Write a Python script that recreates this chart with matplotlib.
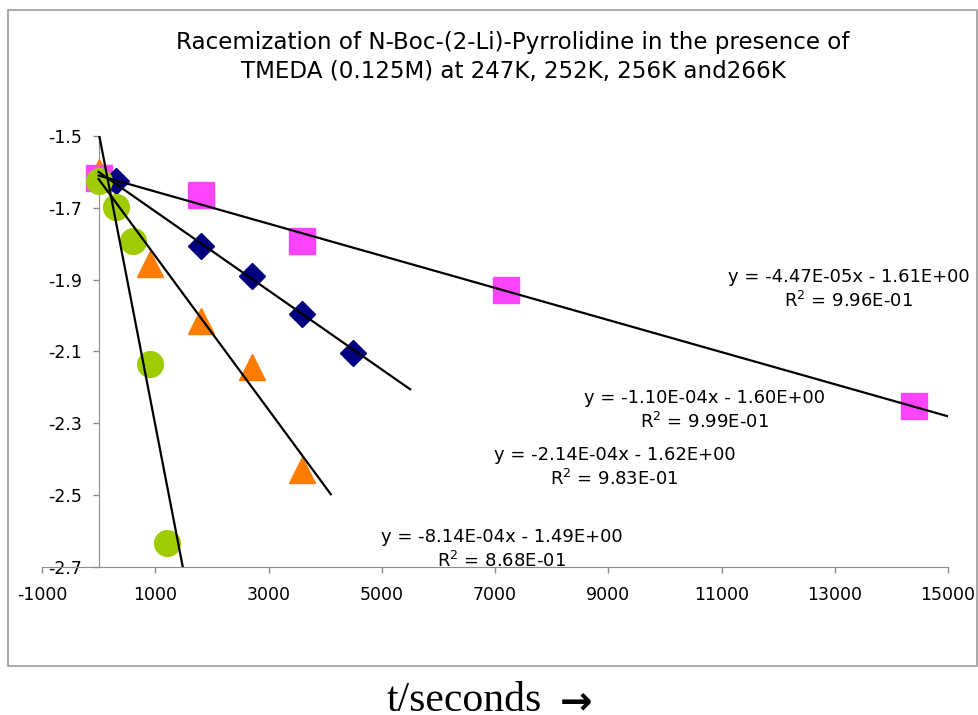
import numpy as np
import matplotlib
matplotlib.use("Agg")
import matplotlib.pyplot as plt
from matplotlib.patches import Rectangle

# ----------------------------------------------------------------------
# data (time in s, ln-type quantity on y)
T_266 = [0, 1800, 3600, 7200, 14400]
Y_266 = [-1.617, -1.665, -1.791, -1.930, -2.252]

T_256 = [300, 1800, 2700, 3600, 4500]
Y_256 = [-1.626, -1.805, -1.889, -1.995, -2.104]

T_252 = [0, 900, 1800, 2700, 3600]
Y_252 = [-1.600, -1.855, -2.015, -2.143, -2.429]

T_247 = [0, 300, 600, 900, 1200]
Y_247 = [-1.626, -1.699, -1.791, -2.135, -2.633]

# trendlines: (slope, intercept, x end, equation text, R^2 text)
FITS = [(-4.47e-05, -1.61, 15000, "y = -4.47E-05x - 1.61E+00", "9.96E-01"),
        (-1.10e-04, -1.60, 5500, "y = -1.10E-04x - 1.60E+00", "9.99E-01"),
        (-2.14e-04, -1.62, 4100, "y = -2.14E-04x - 1.62E+00", "9.83E-01"),
        (-8.14e-04, -1.49, 1500, "y = -8.14E-04x - 1.49E+00", "8.68E-01")]
LABEL_POS = [(13240, -1.927), (10700, -2.265), (9110, -2.422), (7120, -2.650)]

X_TICKS = np.arange(-1000, 15001, 2000)
Y_TICKS = np.arange(-2.7, -1.49, 0.2)

PINK, NAVY, ORANGE, LIME = '#FF44FF', '#000080', '#FF7C00', '#9ECC00'
GREY = '#8c8c8c'

# ----------------------------------------------------------------------
fig = plt.figure(figsize=(9.79, 7.15), dpi=100)
fig.patches.append(Rectangle((8 / 979, 1 - 666 / 715), 969 / 979, 656 / 715,
                             transform=fig.transFigure, fill=False,
                             edgecolor='#999999', lw=1.2))

ax = fig.add_axes([42 / 979, 1 - 567 / 715, 906 / 979, 431 / 715])
ax.set_xlim(-1000, 15000)
ax.set_ylim(-2.7, -1.5)

ax.plot(T_252, Y_252, ls='none', marker='^', ms=18.5, color=ORANGE, mec=ORANGE, zorder=2)
ax.plot(T_266, Y_266, ls='none', marker='s', ms=18.5, color=PINK, mec=PINK, zorder=3)
ax.plot(T_256, Y_256, ls='none', marker='D', ms=13.2, color=NAVY, mec=NAVY, zorder=4)
ax.plot(T_247, Y_247, ls='none', marker='o', ms=18.5, color=LIME, mec=LIME, zorder=5)

for (m, c, xend, eq, r2), (tx, ty) in zip(FITS, LABEL_POS):
    xx = np.array([0, xend])
    ax.plot(xx, m * xx + c, color='black', lw=1.6, zorder=6)
    ax.text(tx, ty, eq + "\n" + r"R$^2$ = " + r2, ha='center', va='center',
            multialignment='center', fontsize=13, linespacing=1.3, zorder=7)

# Excel-like axes: y axis crosses at x = 0, x axis at the bottom
for s in ['top', 'right']:
    ax.spines[s].set_visible(False)
ax.spines['left'].set_position(('data', 0))
ax.spines['left'].set_color(GREY)
ax.spines['bottom'].set_color(GREY)
ax.spines['left'].set_zorder(1)
ax.set_xticks(X_TICKS)
ax.set_xticklabels([f"{v:d}" for v in X_TICKS])
ax.set_yticks(Y_TICKS)
ax.set_yticklabels([f"{v:.1f}" for v in Y_TICKS])
ax.tick_params(axis='both', colors=GREY, labelcolor='black', labelsize=12.5,
               length=4.5, width=1, direction='out')
ax.tick_params(axis='x', pad=9.5)
ax.tick_params(axis='y', pad=7.5)
ax.patch.set_visible(False)

fig.text(513 / 979, 1 - 57 / 715,
         "Racemization of N-Boc-(2-Li)-Pyrrolidine in the presence of\n"
         "TMEDA (0.125M) at 247K, 252K, 256K and266K",
         ha='center', va='center', fontsize=16.6, linespacing=1.3)

fig.text(387 / 979, 4 / 715, "t/seconds", ha='left', va='baseline',
         fontsize=30, family=['Liberation Serif', 'DejaVu Serif'])
fig.text(576 / 979, 1 - 702 / 715, "\u2192", ha='center', va='center',
         fontsize=28, fontweight='bold', family=['DejaVu Sans'])

fig.savefig("out.png", dpi=100)
